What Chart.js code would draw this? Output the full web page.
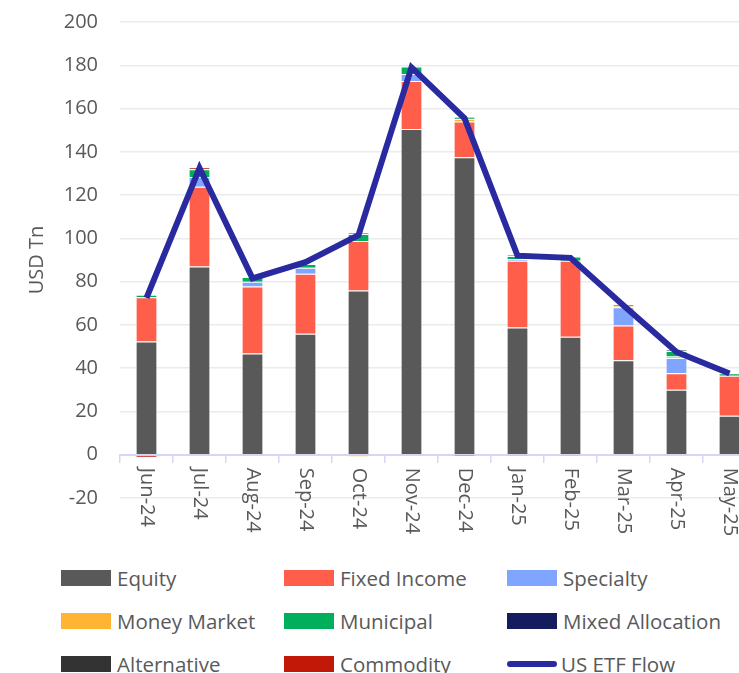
<!DOCTYPE html>
<html>
<head>
<meta charset="utf-8">
<script src="https://cdn.jsdelivr.net/npm/chart.js@4.4.1/dist/chart.umd.min.js"></script>
<style>
body { margin: 0; width: 739px; height: 673px; overflow: hidden; background: #fff; font-family: "Open Sans", sans-serif; }
#wrap { position: absolute; left: 0; top: 0; width: 770px; height: 552px; }
#legend { position: absolute; left: 0; top: 0; }
.item { position: absolute; display: flex; align-items: center; font-size: 20.5px; color: #595959; white-space: nowrap; height: 28px; }
.sw { width: 50px; height: 16px; margin-right: 6px; }
.ln { width: 50px; height: 6px; border-radius: 3px; margin-right: 4px; }
</style>
</head>
<body>
<div id="wrap"><canvas id="chart" width="770" height="552"></canvas></div>
<div id="legend"></div>
<script>
// months on the x axis
const months = ['Jun-24', 'Jul-24', 'Aug-24', 'Sep-24', 'Oct-24', 'Nov-24', 'Dec-24', 'Jan-25', 'Feb-25', 'Mar-25', 'Apr-25', 'May-25'];

// flows by asset class (USD Tn)
const equity          = [52.3, 87.0, 46.8, 55.9, 75.9, 150.6, 137.5, 58.8, 54.5, 43.7, 30.0, 18.0];
const fixedIncome     = [20.5, 36.9, 30.9, 27.7, 22.9, 22.1, 16.5, 30.8, 35.1, 16.0, 7.7, 18.5];
const specialty       = [-0.6, 4.5, 2.2, 2.8, -0.7, 3.3, 0, 0.8, -0.8, 8.5, 7.0, 0];
const moneyMarket     = [0, 0, 0, 0, -0.3, 0, 1.2, 0, 0, 0.6, 0.7, 0];
const municipal       = [1.1, 3.6, 2.2, 1.8, 3.2, 3.4, 0.7, 1.5, 2.0, -0.3, 2.5, 1.2];
const mixedAllocation = [0, 0, 0, 0, 0, 0, 0, -0.2, 0, 0, 0, -0.3];
const alternative     = [0, 0, 0, 0, 0, 0, 0.5, 0.3, 0, 0, 0.6, 0];
const commodity       = [-0.6, 0.7, -0.4, 0, 0.6, -0.4, -0.8, 0, 0, 0.9, 0, 0];
const etfFlow         = [72.5, 132.5, 81.5, 89, 101.5, 179, 155.5, 92, 91, 69, 47.5, 37.5];

const yTicks = [-20, 0, 20, 40, 60, 80, 100, 120, 140, 160, 180, 200];

const barSeries = [
  ['Equity', equity, '#595959'],
  ['Fixed Income', fixedIncome, '#FF5F4A'],
  ['Specialty', specialty, '#7FA5FF'],
  ['Money Market', moneyMarket, '#FFB533'],
  ['Municipal', municipal, '#00AF5B'],
  ['Mixed Allocation', mixedAllocation, '#141B5E'],
  ['Alternative', alternative, '#333333'],
  ['Commodity', commodity, '#C21807']
];
const lineColor = '#2A2AA0';
const textColor = '#595959';

const datasets = barSeries.map(s => ({
  type: 'bar',
  label: s[0],
  data: s[1],
  backgroundColor: s[2],
  borderColor: 'rgba(255,255,255,0.35)',
  borderWidth: 1,
  barPercentage: 0.41,
  categoryPercentage: 1,
  order: 1
}));
datasets.push({
  type: 'line',
  label: 'US ETF Flow',
  data: etfFlow,
  borderColor: lineColor,
  borderWidth: 6,
  pointRadius: 0,
  tension: 0,
  stack: 'line',
  order: 0
});

// x labels read top-to-bottom, drawn under the zero line
const xLabels = {
  id: 'xLabels',
  afterDraw(chart) {
    const ctx = chart.ctx;
    const x = chart.scales.x, y = chart.scales.y;
    const y0 = y.getPixelForValue(0) + 13;
    ctx.save();
    ctx.font = '20px "Open Sans"';
    ctx.fillStyle = textColor;
    ctx.textAlign = 'left';
    ctx.textBaseline = 'middle';
    months.forEach((m, i) => {
      ctx.save();
      ctx.translate(x.getPixelForValue(i), y0);
      ctx.rotate(Math.PI / 2);
      ctx.fillText(m, 0, 0);
      ctx.restore();
    });
    ctx.restore();
  }
};

new Chart(document.getElementById('chart'), {
  data: { labels: months, datasets: datasets },
  options: {
    responsive: false,
    animation: false,
    devicePixelRatio: 1,
    layout: { padding: { top: 22, right: 14, bottom: 54, left: 0 } },
    plugins: { legend: { display: false }, tooltip: { enabled: false } },
    scales: {
      x: {
        position: { y: 0 },
        stacked: true,
        offset: true,
        ticks: { display: false },
        grid: { display: true, drawOnChartArea: false, drawTicks: true, tickLength: 7, offset: true, color: '#D6D6F3', lineWidth: 1.5 },
        border: { color: '#D6D6F3', width: 2 }
      },
      y: {
        stacked: true,
        min: yTicks[0],
        max: yTicks[yTicks.length - 1],
        afterBuildTicks(scale) { scale.ticks = yTicks.map(v => ({ value: v })); },
        afterFit(scale) { scale.width = 120; },
        ticks: { padding: 0, color: textColor, font: { family: 'Open Sans', size: 20 } },
        // invisible tick marks give the gap between labels and plot
        grid: { drawTicks: true, tickLength: 22, tickColor: 'rgba(0,0,0,0)', color: '#EBEBEB', lineWidth: 1.5 },
        border: { display: false },
        title: { display: true, text: 'USD Tn', color: textColor, font: { family: 'Open Sans', size: 20 }, padding: { top: 25, bottom: 0 } }
      }
    }
  },
  plugins: [xLabels]
});

// legend: 3 columns
const legend = document.getElementById('legend');
const items = barSeries.map(s => ({ name: s[0], color: s[2], line: false }));
items.push({ name: 'US ETF Flow', color: lineColor, line: true });
items.forEach((it, i) => {
  const col = i % 3, row = Math.floor(i / 3);
  const el = document.createElement('div');
  el.className = 'item';
  el.style.left = (61 + col * 223) + 'px';
  el.style.top = (578 - 14 + row * 43) + 'px';
  el.innerHTML = '<span class="' + (it.line ? 'ln' : 'sw') + '" style="background:' + it.color + '"></span>' + it.name;
  legend.appendChild(el);
});
</script>
</body>
</html>
